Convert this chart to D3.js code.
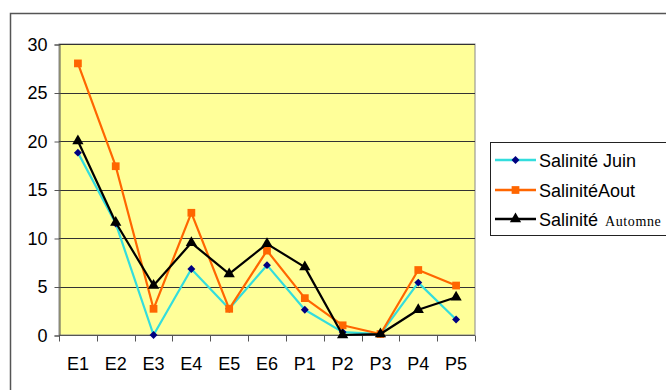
<!DOCTYPE html>
<html>
<head>
<meta charset="utf-8">
<script src="https://cdn.jsdelivr.net/npm/d3@7"></script>
<style>
  html, body { margin: 0; padding: 0; background: #fff; }
  svg { display: block; }
</style>
</head>
<body>
<script>
// Stations sampled
const stations = ["E1", "E2", "E3", "E4", "E5", "E6", "P1", "P2", "P3", "P4", "P5"];
// Salinity by season
const salJuin    = [18.8, 11.5, 0.0, 6.8, 2.7, 7.2, 2.6, 0.3, 0.1, 5.4, 1.6];
const salAout    = [28.0, 17.4, 2.7, 12.6, 2.7, 8.7, 3.8, 1.0, 0.1, 6.7, 5.1];
const salAutomne = [20.0, 11.6, 5.1, 9.5, 6.3, 9.4, 7.0, 0.0, 0.1, 2.6, 3.9];
const yTicks = [0, 5, 10, 15, 20, 25, 30];

const W = 666, H = 390;
const plot = { left: 59, top: 44, right: 475, bottom: 335 };
const sans = "Arial, 'Liberation Sans', sans-serif";

const svg = d3.select("body").append("svg").attr("width", W).attr("height", H);

// Outer chart frame (top and left edges)
svg.append("path")
  .attr("d", `M10.5,${H} V13.5 H${W}`)
  .attr("fill", "none").attr("stroke", "#555").attr("stroke-width", 1.5);

const x = d3.scaleBand().domain(stations).range([plot.left, plot.right]).padding(0);
const y = d3.scaleLinear().domain([0, 30]).range([plot.bottom, plot.top]);

// Plot area background
svg.append("rect")
  .attr("x", plot.left).attr("y", plot.top)
  .attr("width", plot.right - plot.left).attr("height", plot.bottom - plot.top)
  .attr("fill", "#ffff99").attr("stroke", "#888").attr("stroke-width", 1);

// Horizontal gridlines
svg.append("g").selectAll("line").data(yTicks.filter(t => t > 0)).join("line")
  .attr("x1", plot.left).attr("x2", plot.right)
  .attr("y1", d => Math.round(y(d)) + 0.5).attr("y2", d => Math.round(y(d)) + 0.5)
  .attr("stroke", "#333").attr("stroke-width", 1);

// Y axis
const yAxis = svg.append("g")
  .attr("transform", `translate(${plot.left + 0.5},0.5)`)
  .call(d3.axisLeft(y).tickValues(yTicks).tickSize(5).tickPadding(7).tickFormat(d3.format("d")));
yAxis.select(".domain").attr("stroke", "#555");
yAxis.selectAll(".tick line").attr("stroke", "#555");
yAxis.selectAll("text")
  .attr("font-family", sans)
  .attr("font-size", 18).attr("fill", "#000");

// X axis: ticks at category boundaries
const xAxis = svg.append("g").attr("transform", `translate(0,${plot.bottom + 0.5})`);
xAxis.append("line")
  .attr("x1", plot.left).attr("x2", plot.right)
  .attr("stroke", "#555");
const bounds = stations.map(s => x(s)).concat([x(stations[stations.length - 1]) + x.bandwidth()]);
xAxis.selectAll(".bt").data(bounds).join("line")
  .attr("class", "bt")
  .attr("x1", d => Math.round(d) + 0.5).attr("x2", d => Math.round(d) + 0.5)
  .attr("y1", 0).attr("y2", 6)
  .attr("stroke", "#555");
xAxis.selectAll("text").data(stations).join("text")
  .attr("x", d => x(d) + x.bandwidth() / 2)
  .attr("y", 34)
  .attr("text-anchor", "middle")
  .attr("font-family", sans)
  .attr("font-size", 18).attr("fill", "#000")
  .text(d => d);

const cx = s => x(s) + x.bandwidth() / 2;

const series = [
  { name: "Juin", values: salJuin, line: "#33dddd", marker: "#000080", symbol: d3.symbolDiamond2, size: 40 },
  { name: "Aout", values: salAout, line: "#ff6600", marker: "#ff6600", symbol: d3.symbolSquare, size: 60 },
  { name: "Automne", values: salAutomne, line: "#000000", marker: "#000000", symbol: d3.symbolTriangle, size: 55 }
];

const line = d3.line().x(d => cx(d.s)).y(d => y(d.v));

series.forEach(ser => {
  const pts = stations.map((s, i) => ({ s, v: ser.values[i] }));
  svg.append("path")
    .datum(pts)
    .attr("d", line)
    .attr("fill", "none")
    .attr("stroke", ser.line)
    .attr("stroke-width", 2.2)
    .attr("stroke-linejoin", "round");
  svg.append("g").selectAll("path").data(pts).join("path")
    .attr("transform", d => `translate(${cx(d.s)},${y(d.v)})`)
    .attr("d", d3.symbol().type(ser.symbol).size(ser.size))
    .attr("fill", ser.marker);
});

// Legend
const leg = svg.append("g");
leg.append("rect")
  .attr("x", 490.5).attr("y", 142.5).attr("width", 180).attr("height", 93)
  .attr("fill", "#fff").attr("stroke", "#222").attr("stroke-width", 1);

const legY = [160, 190, 219];
series.forEach((ser, i) => {
  const g = leg.append("g");
  g.append("line")
    .attr("x1", 495).attr("x2", 536)
    .attr("y1", legY[i]).attr("y2", legY[i])
    .attr("stroke", ser.line).attr("stroke-width", 2.5);
  g.append("path")
    .attr("transform", `translate(515.5,${legY[i]})`)
    .attr("d", d3.symbol().type(ser.symbol).size(ser.size))
    .attr("fill", ser.marker);
});

leg.append("text").attr("x", 539).attr("y", legY[0] + 6.5)
  .attr("font-family", sans).attr("font-size", 18).attr("fill", "#000")
  .text("Salinité Juin");
leg.append("text").attr("x", 539).attr("y", legY[1] + 6.5)
  .attr("font-family", sans).attr("font-size", 18).attr("fill", "#000")
  .text("SalinitéAout");
const t3 = leg.append("text").attr("x", 539).attr("y", legY[2] + 6.5)
  .attr("fill", "#000");
t3.append("tspan").attr("font-family", sans).attr("font-size", 18).text("Salinité ");
t3.append("tspan").attr("font-family", "'Times New Roman', 'Liberation Serif', serif")
  .attr("font-size", 14).attr("dx", 2).attr("letter-spacing", 0.6).text("Automne");
</script>
</body>
</html>
